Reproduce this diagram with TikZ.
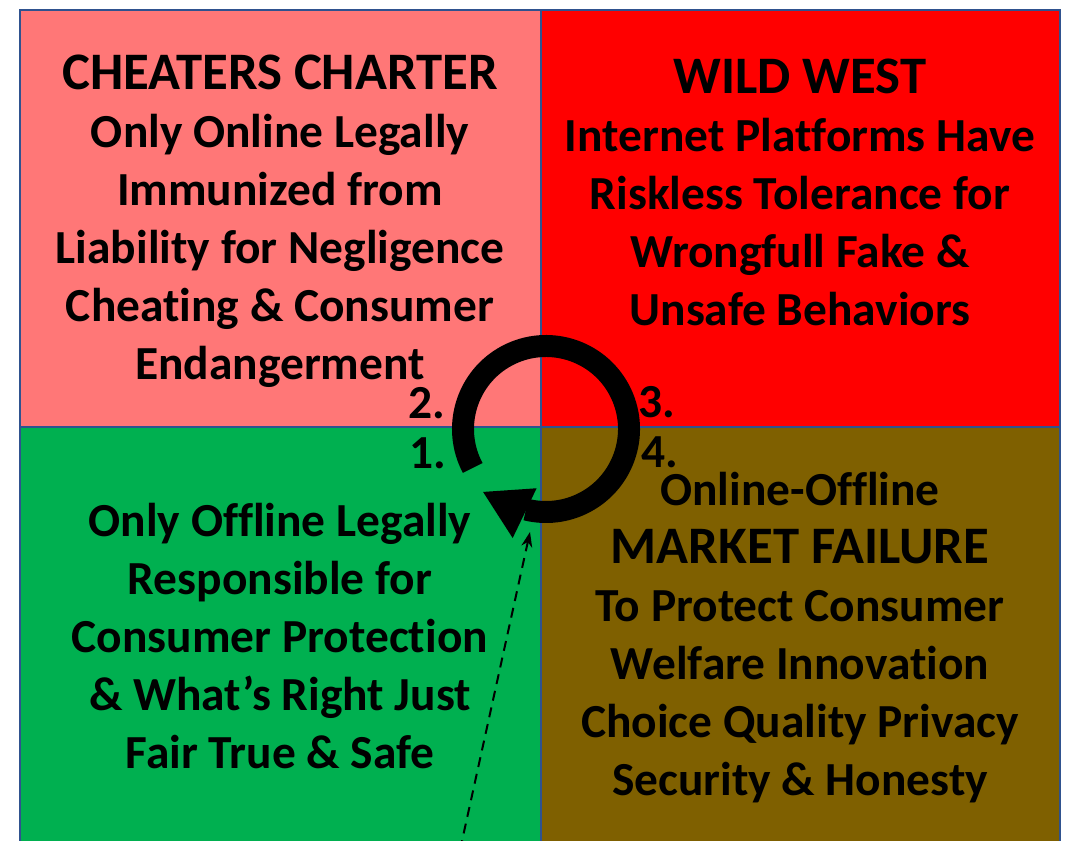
\documentclass[tikz,border=0pt]{standalone}
\usepackage{fontspec}
\setmainfont{Carlito}[Ligatures=NoCommon]
\usetikzlibrary{arrows.meta}
\definecolor{cheatred}{HTML}{FF7777}
\definecolor{wildred}{HTML}{FF0000}
\definecolor{offgreen}{HTML}{00B050}
\definecolor{failbrown}{HTML}{7F6000}
\definecolor{gridblue}{HTML}{2F528F}
\begin{document}
\begin{tikzpicture}[x=0.02cm,y=0.02cm,inner sep=0pt,outer sep=0pt,
quadtext/.style={align=center,font=\fontsize{27}{33}\selectfont\bfseries},
numlabel/.style={font=\fontsize{27}{30}\selectfont\bfseries},
gridline/.style={draw=gridblue,line width=0.04cm}]
\useasboundingbox (0,0) rectangle (1068,840);
\clip (0,0) rectangle (1068,840);
\fill[cheatred] (20,413) rectangle (541,830);
\fill[wildred] (541,413) rectangle (1060,830);
\fill[offgreen] (20,-10) rectangle (541,413);
\fill[failbrown] (541,-10) rectangle (1060,413);
\draw[gridline] (20,-10) -- (20,830) -- (1060,830) -- (1060,-10);
\draw[gridline] (541,-10) -- (541,830);
\draw[gridline] (20,413) -- (1060,413);
\draw (280,619) node[quadtext] (cheaters) {{\fontsize{30}{33}\selectfont CHEATERS CHARTER}\\Only Online Legally\\Immunized from\\Liability for Negligence\\Cheating \& Consumer\\Endangerment};
\draw (800,648) node[quadtext] (wildwest) {{\fontsize{30}{33}\selectfont WILD WEST}\\Internet Platforms Have\\Riskless Tolerance for\\Wrongfull Fake \&\\Unsafe Behaviors};
\draw (280,204) node[quadtext] (offline) {Only Offline Legally\\Responsible for\\Consumer Protection\\\& What’s Right Just\\Fair True \& Safe};
\draw (800,202) node[quadtext] (failure) {Online-Offline\\{\fontsize{30}{33}\selectfont MARKET FAILURE}\\To Protect Consumer\\Welfare Innovation\\Choice Quality Privacy\\Security \& Honesty};
\draw (427,437) node[numlabel] (two) {2.};
\draw (428,387) node[numlabel] (one) {1.};
\draw (657,438) node[numlabel] (three) {3.};
\draw (660,388) node[numlabel] (four) {4.};
\coordinate (ring) at (546,411);
\draw[line width=0.44cm] (ring) ++(208:83) arc[start angle=208,end angle=-104,radius=83];
\fill ([shift={(-135:89)}]ring) -- ([shift={(-99:60)}]ring) -- ([shift={(-107:114)}]ring) -- cycle;
\coordinate (src) at (460,-10);
\coordinate (dst) at (530,308);
\draw[line width=0.04cm,dash pattern=on 0.2cm off 0.14cm,-{Stealth[length=0.3cm,width=0.22cm]}] (src) -- (dst);
\end{tikzpicture}
\end{document}
